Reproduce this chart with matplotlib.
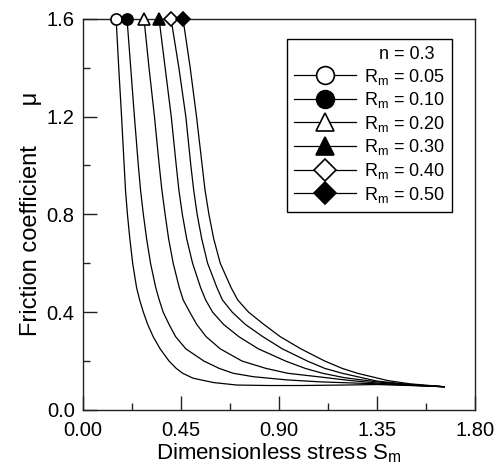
import matplotlib
matplotlib.use("Agg")
import matplotlib.pyplot as plt
from matplotlib.lines import Line2D
from matplotlib.ticker import MultipleLocator

plt.rcParams['font.family'] = ['Liberation Sans', 'DejaVu Sans']
plt.rcParams['mathtext.fontset'] = 'custom'
plt.rcParams['mathtext.rm'] = 'Liberation Sans'
plt.rcParams['mathtext.it'] = 'Liberation Sans:italic'

# values (n = 0.3)
rm_values = [0.05, 0.10, 0.20, 0.30, 0.40, 0.50]

s_005 = [0.152, 0.164, 0.177, 0.189, 0.195, 0.204, 0.215, 0.228, 0.246, 0.260, 0.277, 0.297, 0.322, 0.354,
         0.395, 0.428, 0.458, 0.505, 0.552, 0.60, 0.706, 0.85, 1.0, 1.2, 1.35, 1.5, 1.658]
mu_005 = [1.6, 1.4, 1.2, 1.0, 0.9, 0.8, 0.7, 0.6, 0.5, 0.45, 0.4, 0.35, 0.3, 0.25,
          0.2, 0.17, 0.15, 0.13, 0.121, 0.112, 0.102, 0.100, 0.100, 0.102, 0.104, 0.100, 0.095]

s_010 = [0.202, 0.219, 0.236, 0.254, 0.264, 0.277, 0.292, 0.310, 0.334, 0.350, 0.368, 0.395, 0.425, 0.472,
         0.555, 0.625, 0.69, 0.782, 0.935, 1.088, 1.25, 1.35, 1.5, 1.658]
mu_010 = [1.6, 1.4, 1.2, 1.0, 0.9, 0.8, 0.7, 0.6, 0.5, 0.45, 0.4, 0.35, 0.3, 0.25,
          0.2, 0.17, 0.15, 0.136, 0.123, 0.115, 0.110, 0.107, 0.101, 0.095]

s_020 = [0.280, 0.303, 0.328, 0.350, 0.362, 0.377, 0.393, 0.414, 0.442, 0.460, 0.490, 0.522, 0.565, 0.630,
         0.73, 0.84, 0.94, 1.088, 1.211, 1.35, 1.5, 1.658]
mu_020 = [1.6, 1.4, 1.2, 1.0, 0.9, 0.8, 0.7, 0.6, 0.5, 0.45, 0.4, 0.35, 0.3, 0.25,
          0.2, 0.17, 0.15, 0.135, 0.122, 0.110, 0.102, 0.095]

s_030 = [0.349, 0.377, 0.405, 0.428, 0.440, 0.456, 0.476, 0.503, 0.540, 0.563, 0.595, 0.645, 0.715, 0.805,
         0.93, 1.02, 1.10, 1.2, 1.35, 1.5, 1.658]
mu_030 = [1.6, 1.4, 1.2, 1.0, 0.9, 0.8, 0.7, 0.6, 0.5, 0.45, 0.4, 0.35, 0.3, 0.25,
          0.2, 0.17, 0.15, 0.132, 0.115, 0.103, 0.095]

s_040 = [0.404, 0.440, 0.472, 0.495, 0.508, 0.524, 0.545, 0.572, 0.615, 0.640, 0.685, 0.745, 0.825, 0.915,
         1.03, 1.11, 1.19, 1.35, 1.5, 1.658]
mu_040 = [1.6, 1.4, 1.2, 1.0, 0.9, 0.8, 0.7, 0.6, 0.5, 0.45, 0.4, 0.35, 0.3, 0.25,
          0.2, 0.17, 0.15, 0.118, 0.104, 0.095]

s_050 = [0.459, 0.492, 0.521, 0.547, 0.560, 0.578, 0.600, 0.630, 0.680, 0.710, 0.760, 0.830, 0.905, 1.00,
         1.11, 1.19, 1.26, 1.40, 1.5, 1.658]
mu_050 = [1.6, 1.4, 1.2, 1.0, 0.9, 0.8, 0.7, 0.6, 0.5, 0.45, 0.4, 0.35, 0.3, 0.25,
          0.2, 0.17, 0.15, 0.12, 0.107, 0.095]

curves = [(s_005, mu_005), (s_010, mu_010), (s_020, mu_020),
          (s_030, mu_030), (s_040, mu_040), (s_050, mu_050)]
markers = ['o', 'o', '^', '^', 'D', 'D']
filled = [False, True, False, True, False, True]

fig = plt.figure(figsize=(4.97, 4.68), dpi=100)
ax = fig.add_axes([0.167, 0.124, 0.789, 0.836])

handles = [Line2D([], [], linestyle='none', marker='none', label='   n = 0.3')]
for (s, mu), rm, mk, fl in zip(curves, rm_values, markers, filled):
    ax.plot(s, mu, color='black', lw=0.9)
    fc = 'black' if fl else 'white'
    ms = 7 if mk == 'D' else 8
    ax.plot(s[0], mu[0], linestyle='none', marker=mk, ms=ms, mfc=fc, mec='black',
            mew=1.2, clip_on=False, zorder=5)
    handles.append(Line2D([], [], color='black', lw=0.9, marker=mk, ms=ms, mfc=fc,
                          mec='black', mew=1.2, label='R$_\\mathrm{m}$ = %.2f' % rm))

ax.set_xlim(0, 1.8)
ax.set_ylim(0, 1.6)
ax.xaxis.set_major_locator(MultipleLocator(0.45))
ax.xaxis.set_minor_locator(MultipleLocator(0.225))
ax.yaxis.set_major_locator(MultipleLocator(0.4))
ax.yaxis.set_minor_locator(MultipleLocator(0.2))
ax.xaxis.set_major_formatter(plt.FormatStrFormatter('%.2f'))
ax.yaxis.set_major_formatter(plt.FormatStrFormatter('%.1f'))
ax.tick_params(which='both', direction='in', labelsize=14.5, color='#222222')
ax.tick_params(which='major', length=10, width=1)
ax.tick_params(which='minor', length=5, width=1)
ax.tick_params(axis='x', pad=8)
ax.tick_params(axis='y', pad=6)
for sp in ax.spines.values():
    sp.set_linewidth(1.0)
    sp.set_color('#222222')

ax.set_xlabel('Dimensionless stress S$_\\mathrm{m}$', fontsize=16, labelpad=1)
ax.set_ylabel('Friction coefficient      \u03bc', fontsize=17, labelpad=3)

leg = ax.legend(handles=handles, loc='upper right', bbox_to_anchor=(0.941, 0.949),
                borderaxespad=0, fontsize=13, markerscale=1.6, handlelength=3.4,
                handletextpad=0.45, labelspacing=0.2, fancybox=False,
                edgecolor='black', framealpha=1, borderpad=0.4)
leg.get_frame().set_linewidth(1.0)

fig.savefig('out.png', dpi=100)
